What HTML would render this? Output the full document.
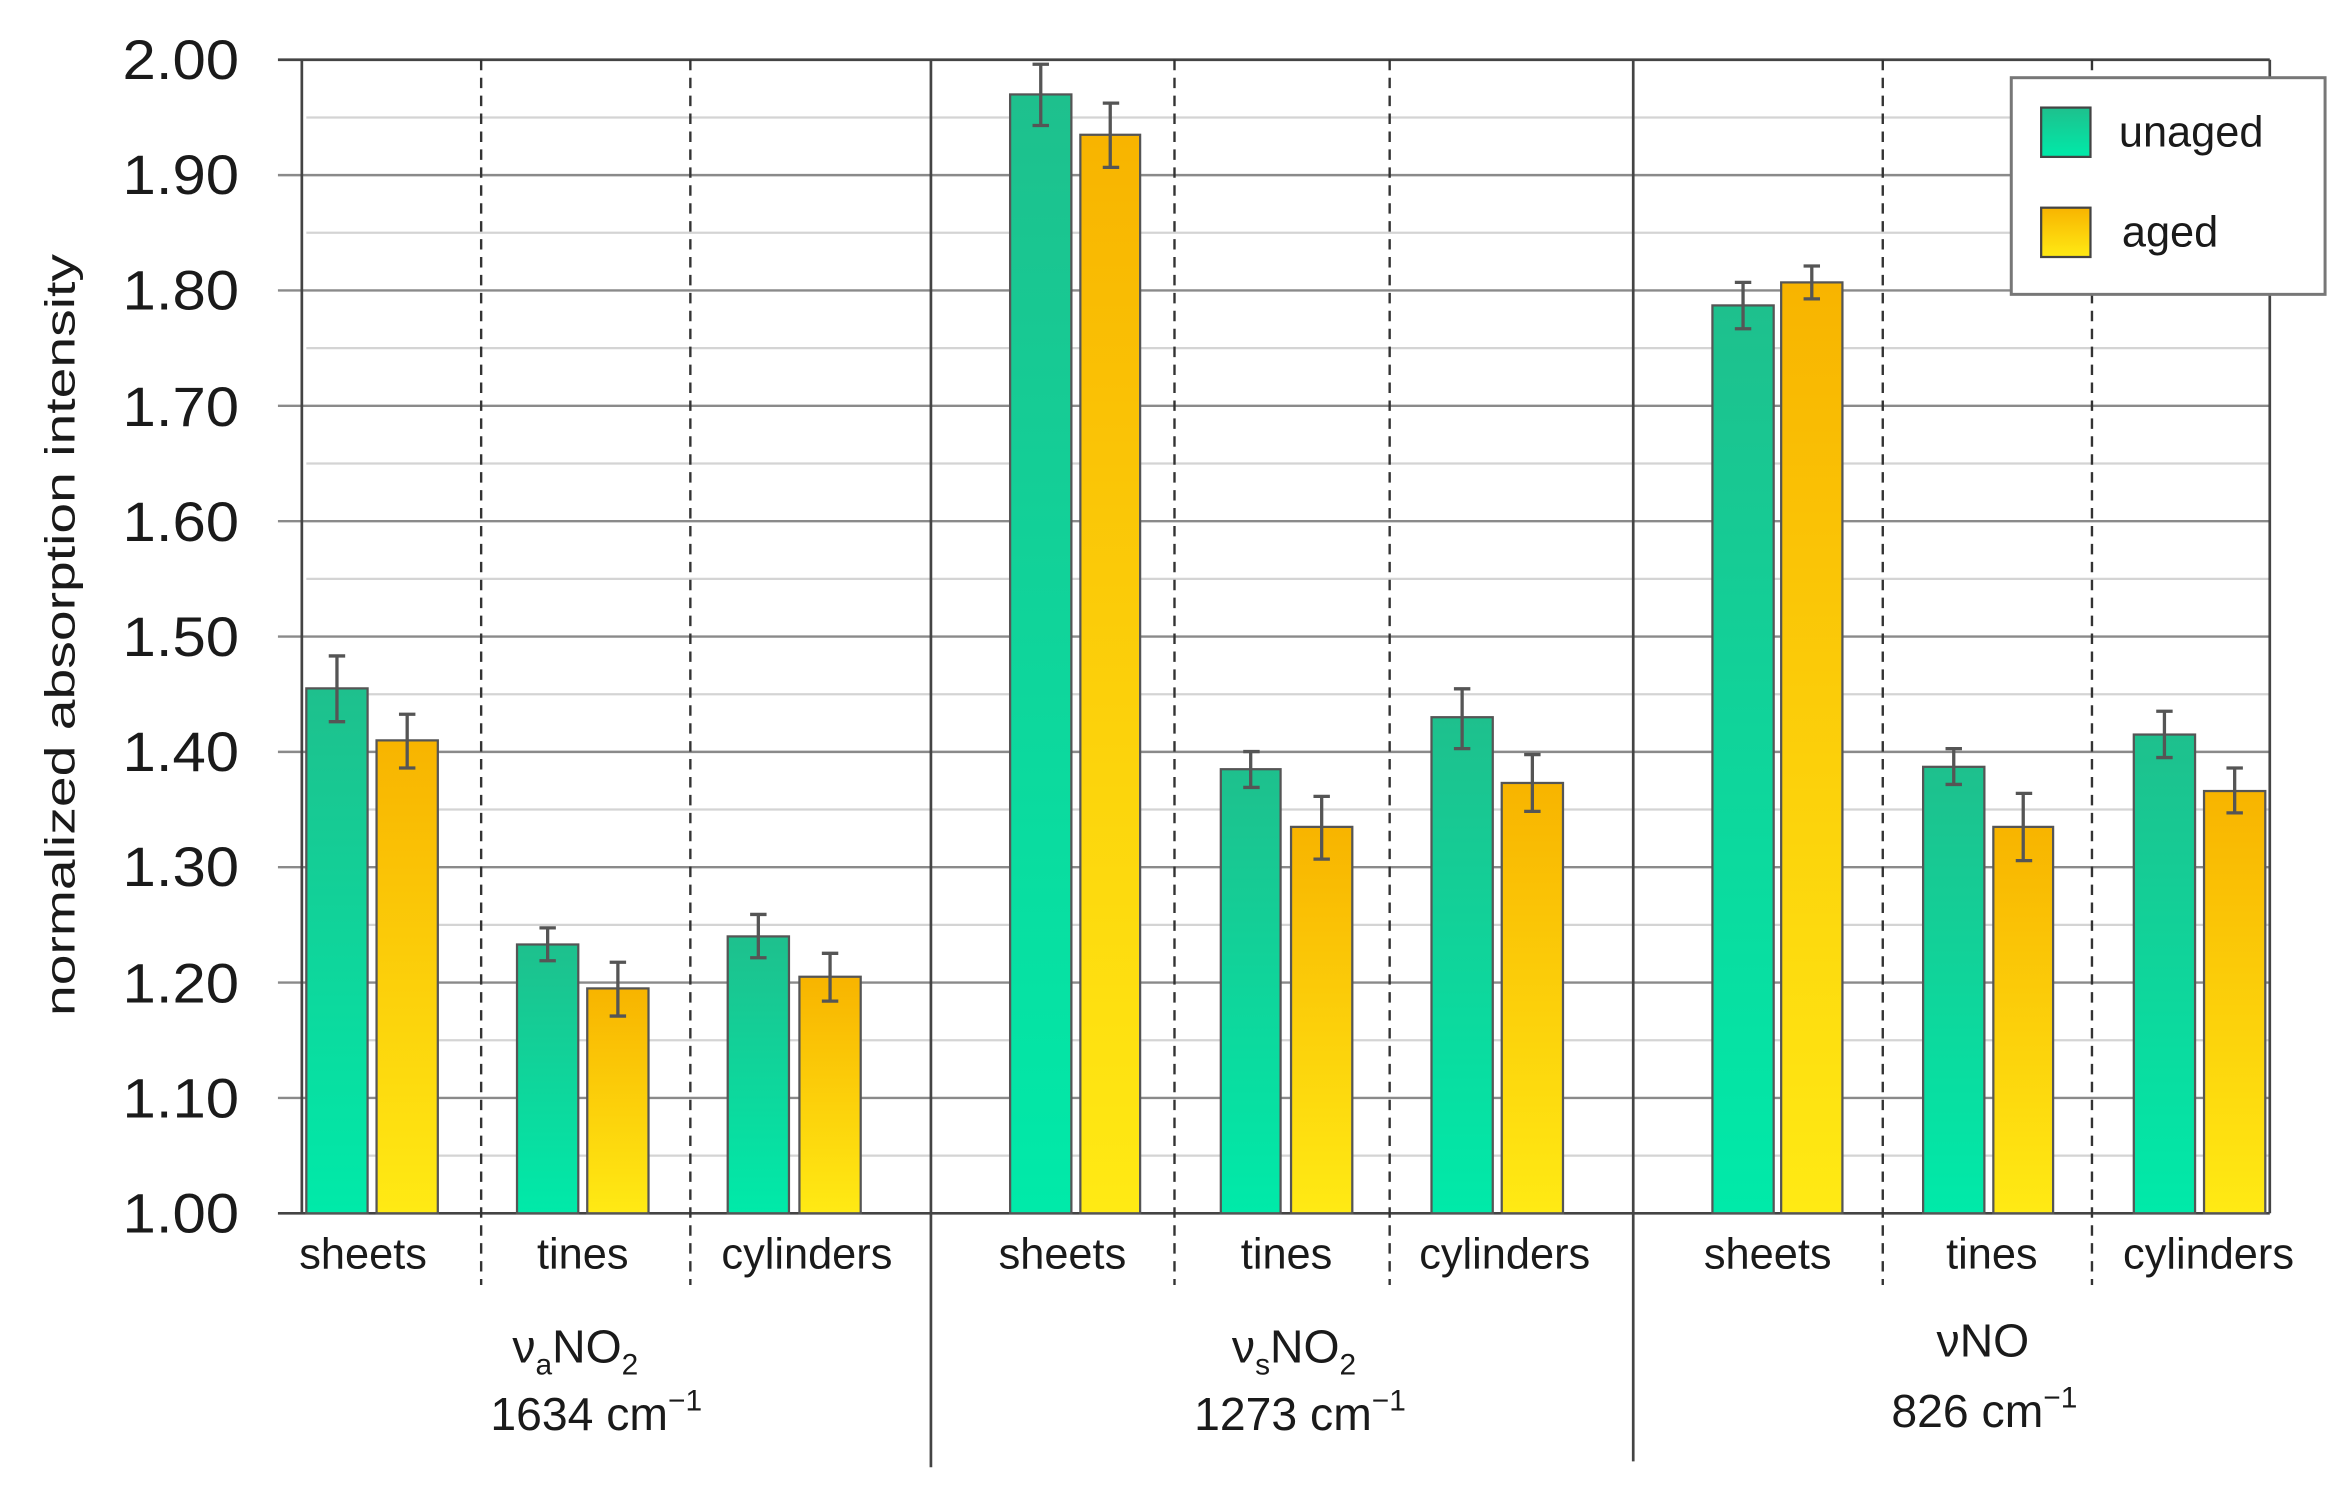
<!DOCTYPE html>
<html><head><meta charset="utf-8"><style>
html,body{margin:0;padding:0;background:#fff;}
svg{display:block;}
text{font-family:"Liberation Sans",sans-serif;fill:#1a1a1a;}
</style></head><body>
<svg width="2343" height="1493" viewBox="0 0 1568 999.2" preserveAspectRatio="none" xmlns="http://www.w3.org/2000/svg">
<defs>
<linearGradient id="g" x1="0" y1="0" x2="0" y2="1"><stop offset="0" stop-color="#1ec08d"/><stop offset="1" stop-color="#00eaa9"/></linearGradient>
<linearGradient id="y" x1="0" y1="0" x2="0" y2="1"><stop offset="0" stop-color="#f8b400"/><stop offset="1" stop-color="#ffea14"/></linearGradient>
</defs>
<g stroke="#d4d4d4" stroke-width="1.5">
<line x1="205" x2="1519" y1="78.6" y2="78.6"/><line x1="205" x2="1519" y1="155.8" y2="155.8"/>
<line x1="205" x2="1519" y1="233" y2="233"/><line x1="205" x2="1519" y1="310.2" y2="310.2"/>
<line x1="205" x2="1519" y1="387.4" y2="387.4"/><line x1="205" x2="1519" y1="464.6" y2="464.6"/>
<line x1="205" x2="1519" y1="541.8" y2="541.8"/><line x1="205" x2="1519" y1="619" y2="619"/>
<line x1="205" x2="1519" y1="696.2" y2="696.2"/><line x1="205" x2="1519" y1="773.4" y2="773.4"/>
</g>
<g stroke="#8a8a8a" stroke-width="1.6">
<line x1="186" x2="1519" y1="117.2" y2="117.2"/><line x1="186" x2="1519" y1="194.4" y2="194.4"/>
<line x1="186" x2="1519" y1="271.6" y2="271.6"/><line x1="186" x2="1519" y1="348.8" y2="348.8"/>
<line x1="186" x2="1519" y1="426" y2="426"/><line x1="186" x2="1519" y1="503.2" y2="503.2"/>
<line x1="186" x2="1519" y1="580.4" y2="580.4"/><line x1="186" x2="1519" y1="657.6" y2="657.6"/>
<line x1="186" x2="1519" y1="734.8" y2="734.8"/>
</g>
<g stroke="#444" stroke-width="1.8">
<line x1="186" x2="1519" y1="40" y2="40"/>
<line x1="186" x2="1519" y1="812" y2="812"/>
<line x1="202" x2="202" y1="40" y2="812"/>
<line x1="1519" x2="1519" y1="40" y2="812"/>
<line x1="623" x2="623" y1="40" y2="982"/>
<line x1="1093" x2="1093" y1="40" y2="978"/>
</g>
<g stroke="#333" stroke-width="1.6" stroke-dasharray="7,5">
<line x1="322" x2="322" y1="40" y2="860"/><line x1="462" x2="462" y1="40" y2="860"/>
<line x1="786" x2="786" y1="40" y2="860"/><line x1="930" x2="930" y1="40" y2="860"/>
<line x1="1260" x2="1260" y1="40" y2="860"/><line x1="1400" x2="1400" y1="40" y2="860"/>
</g>
<g stroke="#555" stroke-width="1.5">
<rect x="205" y="460.7" width="41" height="351.3" fill="url(#g)"/>
<rect x="252" y="495.5" width="41" height="316.5" fill="url(#y)"/>
<rect x="346" y="632.1" width="41" height="179.9" fill="url(#g)"/>
<rect x="393" y="661.5" width="41" height="150.5" fill="url(#y)"/>
<rect x="487" y="626.7" width="41" height="185.3" fill="url(#g)"/>
<rect x="535" y="653.7" width="41" height="158.3" fill="url(#y)"/>
<rect x="676" y="63.2" width="41" height="748.8" fill="url(#g)"/>
<rect x="723" y="90.2" width="40" height="721.8" fill="url(#y)"/>
<rect x="817" y="514.8" width="40" height="297.2" fill="url(#g)"/>
<rect x="864" y="553.4" width="41" height="258.6" fill="url(#y)"/>
<rect x="958" y="480" width="41" height="332" fill="url(#g)"/>
<rect x="1005" y="524" width="41" height="288" fill="url(#y)"/>
<rect x="1146" y="204.4" width="41" height="607.6" fill="url(#g)"/>
<rect x="1192" y="189" width="41" height="623" fill="url(#y)"/>
<rect x="1287" y="513.2" width="41" height="298.8" fill="url(#g)"/>
<rect x="1334" y="553.4" width="40" height="258.6" fill="url(#y)"/>
<rect x="1428" y="491.6" width="41" height="320.4" fill="url(#g)"/>
<rect x="1475" y="529.4" width="41" height="282.6" fill="url(#y)"/>
</g>
<g stroke="#555" stroke-width="2.2" fill="none">
<path d="M225.5 439v44M220 439h11M220 483h11"/>
<path d="M272.5 478v36M267 478h11M267 514h11"/>
<path d="M366.5 621v22M361 621h11M361 643h11"/>
<path d="M413.5 644v36M408 644h11M408 680h11"/>
<path d="M507.5 612v29M502 612h11M502 641h11"/>
<path d="M555.5 638v32M550 638h11M550 670h11"/>
<path d="M696.5 43v41M691 43h11M691 84h11"/>
<path d="M743 69v43M738 69h11M738 112h11"/>
<path d="M837 503v24M832 503h11M832 527h11"/>
<path d="M884.5 533v42M879 533h11M879 575h11"/>
<path d="M978.5 461v40M973 461h11M973 501h11"/>
<path d="M1025.5 505v38M1020 505h11M1020 543h11"/>
<path d="M1166.5 189v31M1161 189h11M1161 220h11"/>
<path d="M1212.5 178v22M1207 178h11M1207 200h11"/>
<path d="M1307.5 501v24M1302 501h11M1302 525h11"/>
<path d="M1354 531v45M1349 531h11M1349 576h11"/>
<path d="M1448.5 476v31M1443 476h11M1443 507h11"/>
<path d="M1495.5 514v30M1490 514h11M1490 544h11"/>
</g>
<g font-size="37" text-anchor="end">
<text x="160" y="53" textLength="78" lengthAdjust="spacingAndGlyphs">2.00</text><text x="160" y="130" textLength="78" lengthAdjust="spacingAndGlyphs">1.90</text><text x="160" y="207" textLength="78" lengthAdjust="spacingAndGlyphs">1.80</text>
<text x="160" y="285" textLength="78" lengthAdjust="spacingAndGlyphs">1.70</text><text x="160" y="362" textLength="78" lengthAdjust="spacingAndGlyphs">1.60</text><text x="160" y="439" textLength="78" lengthAdjust="spacingAndGlyphs">1.50</text>
<text x="160" y="516" textLength="78" lengthAdjust="spacingAndGlyphs">1.40</text><text x="160" y="593" textLength="78" lengthAdjust="spacingAndGlyphs">1.30</text><text x="160" y="671" textLength="78" lengthAdjust="spacingAndGlyphs">1.20</text>
<text x="160" y="748" textLength="78" lengthAdjust="spacingAndGlyphs">1.10</text><text x="160" y="825" textLength="78" lengthAdjust="spacingAndGlyphs">1.00</text>
</g>
<text transform="translate(50,425) rotate(-90)" font-size="28" text-anchor="middle" textLength="510" lengthAdjust="spacingAndGlyphs">normalized absorption intensity</text>
<g font-size="29" text-anchor="middle">
<text x="243" y="849">sheets</text><text x="390" y="849">tines</text><text x="540" y="849">cylinders</text>
<text x="711" y="849">sheets</text><text x="861" y="849">tines</text><text x="1007" y="849">cylinders</text>
<text x="1183" y="849">sheets</text><text x="1333" y="849">tines</text><text x="1478" y="849">cylinders</text>
</g>
<g font-size="31" text-anchor="middle">
<text x="385" y="912">ν<tspan font-size="20" dy="8">a</tspan><tspan dy="-8">NO</tspan><tspan font-size="20" dy="8">2</tspan></text>
<text x="399" y="957">1634 cm<tspan font-size="20" dy="-13">−1</tspan></text>
<text x="866" y="912">ν<tspan font-size="20" dy="8">s</tspan><tspan dy="-8">NO</tspan><tspan font-size="20" dy="8">2</tspan></text>
<text x="870" y="957">1273 cm<tspan font-size="20" dy="-13">−1</tspan></text>
<text x="1327" y="908">νNO</text>
<text x="1328" y="955">826 cm<tspan font-size="20" dy="-13">−1</tspan></text>
</g>
<rect x="1346" y="52" width="210" height="145" fill="#fff" stroke="#777" stroke-width="2"/>
<rect x="1366" y="72" width="33" height="33" fill="url(#g)" stroke="#444" stroke-width="1.5"/>
<rect x="1366" y="139" width="33" height="33" fill="url(#y)" stroke="#444" stroke-width="1.5"/>
<text x="1418" y="98" font-size="29">unaged</text>
<text x="1420" y="165" font-size="29">aged</text>
</svg>
</body></html>
